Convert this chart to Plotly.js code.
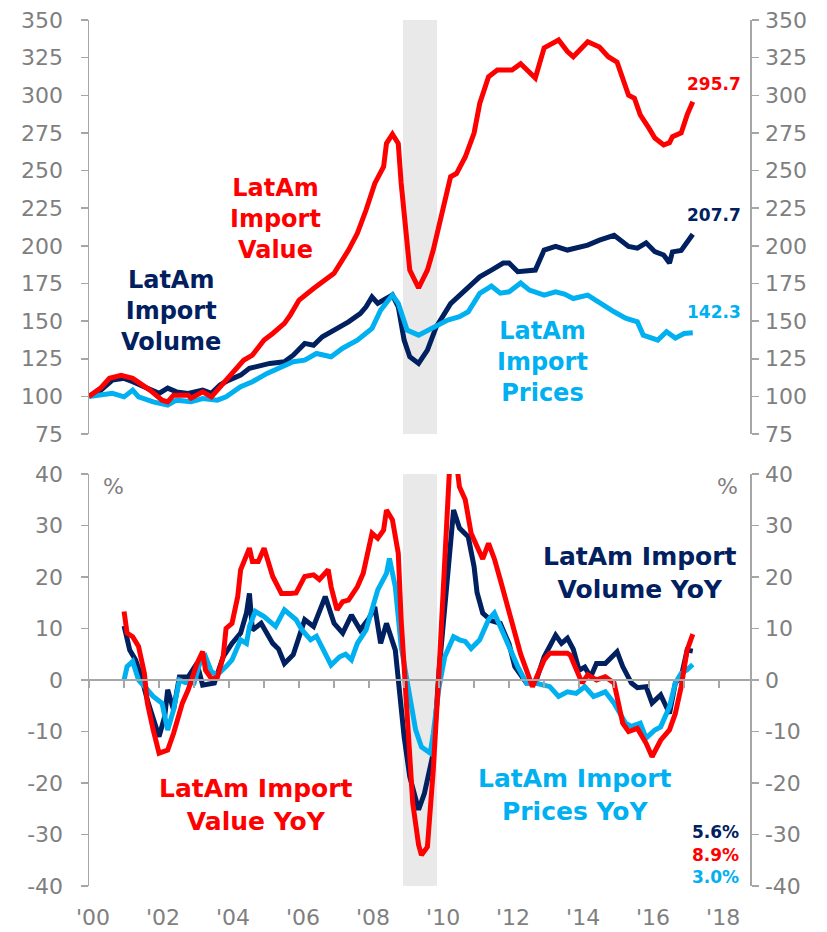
<!DOCTYPE html>
<html><head><meta charset="utf-8">
<script src="https://cdn.plot.ly/plotly-3.0.1.min.js"></script>
<style>html,body{margin:0;padding:0;background:#fff}#chart{width:827px;height:932px}</style>
</head><body><div id="chart"></div>
<script>
// ---------- Index levels (2000 = 100) ----------
const valueDates = ['2000-01','2000-05','2000-08','2000-12','2001-04','2001-10','2002-02','2002-04','2002-06','2002-11','2002-12','2003-04','2003-07','2003-11','2004-03','2004-06','2004-09','2005-01','2005-04','2005-08','2005-10','2006-01','2006-06','2006-11','2007-01','2007-06','2007-09','2007-12','2008-03','2008-06','2008-07','2008-09','2008-11','2008-12','2009-02','2009-03','2009-06','2009-09','2009-11','2010-02','2010-05','2010-07','2010-10','2011-01','2011-03','2011-06','2011-09','2012-02','2012-05','2012-10','2013-01','2013-06','2013-09','2013-11','2014-04','2014-08','2014-11','2015-02','2015-06','2015-08','2015-10','2016-01','2016-03','2016-06','2016-08','2016-09','2016-12','2017-02','2017-04'];
const valueIdx = [100,105.5,112,114,112,104,97.5,96.4,100.8,100.8,98.8,103,99.7,108.5,116.3,124,127.4,137.4,141.8,148.5,154,164,171.7,179.4,181.7,197.2,208.3,223.8,241.5,252.5,268,274.2,268,241.7,206,183.9,172,183.9,197.2,223.8,245.9,248,259,274.9,294.6,312.3,316.8,316.8,321,311.5,331.5,336.7,329,325.6,335.6,332,325.6,322,300,298,287,278,271.6,267,268.5,272.5,275,287,295.7];

const volumeDates = ['2000-01','2000-05','2000-09','2001-01','2001-04','2001-09','2002-01','2002-04','2002-07','2002-11','2003-04','2003-07','2003-10','2004-01','2004-05','2004-08','2004-12','2005-03','2005-08','2005-11','2006-03','2006-06','2006-09','2007-01','2007-06','2007-10','2007-12','2008-02','2008-04','2008-06','2008-09','2008-11','2009-01','2009-03','2009-06','2009-09','2009-12','2010-05','2010-11','2011-03','2011-07','2011-11','2012-01','2012-04','2012-10','2013-01','2013-05','2013-09','2014-04','2014-08','2015-01','2015-06','2015-09','2015-12','2016-03','2016-06','2016-08','2016-09','2016-12','2017-02','2017-04'];
const volumeIdx = [100,104,110.8,112,109.7,105.3,102,105.5,103,102,104.2,102,107.7,110.8,114.1,118.6,120.8,121.9,123,127.4,135.2,134,139.6,144,149.5,155,159.5,166,161.8,164,167.3,159.5,137.4,126.3,121.9,130.7,146,161.6,172.8,179.4,183.9,188.6,188.6,182.8,183.9,197.2,199.6,197.2,200.5,203.8,207,199.6,198.5,202,196.1,193.9,188.6,196,197,202.7,207.7];

const pricesDates = ['2000-01','2000-06','2000-09','2001-01','2001-04','2001-06','2001-11','2002-04','2002-07','2002-12','2003-04','2003-09','2003-12','2004-05','2004-09','2005-02','2005-07','2005-11','2006-03','2006-07','2006-12','2007-04','2007-09','2008-02','2008-05','2008-09','2008-11','2009-02','2009-06','2009-11','2010-04','2010-08','2010-11','2011-03','2011-07','2011-10','2012-01','2012-05','2012-08','2013-01','2013-05','2013-08','2013-11','2014-04','2014-08','2015-01','2015-05','2015-09','2015-11','2016-04','2016-07','2016-10','2017-01','2017-04'];
const pricesIdx = [100,100.8,102,99.7,104.2,99.7,96.4,94.2,97.5,96.4,98.6,97.5,99.7,106.4,109.7,115.3,119.7,123,124.1,128.5,126.3,132,137.4,145.2,157.3,167.3,161.8,144,140.7,146,150.7,152.9,156.2,168.4,173.3,168.6,169.5,175.3,170.6,167.3,169.5,168,165,167.3,162,156.2,152,149.5,140.7,137.4,142.9,138.7,141.8,142.3];

// ---------- Year-on-year, % ----------
const valueYoYDates = ['2001-01','2001-02','2001-04','2001-06','2001-08','2001-09','2001-11','2001-12','2002-01','2002-04','2002-06','2002-09','2002-11','2003-02','2003-04','2003-05','2003-07','2003-09','2003-11','2003-12','2004-02','2004-04','2004-05','2004-08','2004-09','2004-11','2005-01','2005-04','2005-07','2005-10','2005-12','2006-03','2006-06','2006-08','2006-11','2006-12','2007-02','2007-04','2007-06','2007-09','2007-11','2008-02','2008-04','2008-06','2008-07','2008-09','2008-11','2008-12','2009-02','2009-04','2009-06','2009-07','2009-09','2009-11','2010-01','2010-03','2010-04','2010-05','2010-06','2010-07','2010-08','2010-10','2010-12','2011-02','2011-04','2011-06','2011-08','2011-10','2011-12','2012-02','2012-05','2012-09','2013-01','2013-03','2013-09','2013-10','2014-02','2014-04','2014-07','2014-10','2015-01','2015-04','2015-06','2015-09','2015-12','2016-02','2016-05','2016-08','2016-10','2016-12','2017-02','2017-04'];
const valueYoY = [13.3,9.1,8.4,6.5,1.3,-4.5,-9.7,-11.7,-14.2,-13.6,-10.4,-4.5,-1.9,3.2,5.5,1.9,0.3,0.5,4.5,10,11,16.2,21.4,25.6,23,23,25.6,20.1,16.8,16.8,16.9,20.1,20.4,19.5,21.4,18.1,13.6,15.2,15.5,18.1,20.7,28.5,27.5,29.1,33,31.1,24.6,11.7,-7.8,-23.9,-32,-34,-32.4,-17.5,1.9,24.6,38,45,47,42,37.5,35,28.5,25.9,23.5,26.5,23.5,19.5,15.5,11,5,-1.3,3.9,5.2,5.2,4.8,-0.6,1,0,0.6,-0.6,-8.4,-10,-9.4,-12.3,-14.9,-11.7,-9.7,-6.5,-1.3,5.8,8.9];

const volumeYoYDates = ['2001-01','2001-03','2001-05','2001-07','2001-09','2001-11','2002-01','2002-03','2002-04','2002-06','2002-08','2002-11','2003-02','2003-04','2003-08','2003-11','2004-02','2004-05','2004-07','2004-08','2004-09','2004-12','2005-04','2005-06','2005-08','2005-11','2006-03','2006-06','2006-10','2007-01','2007-04','2007-07','2007-10','2008-01','2008-03','2008-05','2008-07','2008-10','2008-11','2009-01','2009-03','2009-06','2009-08','2009-11','2010-01','2010-04','2010-06','2010-08','2010-11','2011-01','2011-02','2011-04','2011-07','2011-10','2012-01','2012-03','2012-05','2012-07','2012-10','2013-01','2013-05','2013-07','2013-09','2013-11','2014-01','2014-03','2014-05','2014-07','2014-10','2015-02','2015-04','2015-07','2015-09','2015-12','2016-02','2016-05','2016-08','2016-10','2016-12','2017-02','2017-04'];
const volumeYoY = [10.5,5.8,3.9,0.6,-3.9,-7.1,-11,-7.1,-1.9,-5.8,0.6,0.6,3.2,-1,-0.6,4.5,7.1,9.1,13,16.8,9.7,11,7.1,6,3.2,4.9,11.7,10.4,16.2,11,9.1,12.6,9.7,12,14.2,7.1,11,5.8,-0.6,-11,-18.8,-25.2,-22,-14.2,1.9,21.4,33,29.5,27.8,22,17,13,11.5,11,7,2.6,1,-0.6,-0.6,4.5,8.7,7.1,8.1,6,1.9,2.5,0.6,3.2,3.2,5.5,2.6,-0.6,-1.5,-1.3,-4.5,-2.9,-6.5,-0.6,0.6,5.8,5.6];

const pricesYoYDates = ['2001-01','2001-02','2001-04','2001-06','2001-09','2001-11','2002-02','2002-04','2002-06','2002-08','2002-10','2003-01','2003-03','2003-05','2003-07','2003-09','2003-12','2004-02','2004-05','2004-07','2004-08','2004-10','2005-01','2005-05','2005-08','2005-12','2006-02','2006-05','2006-07','2006-10','2006-12','2007-03','2007-05','2007-07','2007-09','2007-12','2008-02','2008-04','2008-07','2008-08','2008-10','2008-12','2009-03','2009-05','2009-07','2009-10','2009-11','2010-01','2010-03','2010-06','2010-08','2010-10','2010-12','2011-03','2011-06','2011-08','2011-10','2012-01','2012-04','2012-07','2012-10','2013-03','2013-06','2013-09','2013-12','2014-03','2014-06','2014-10','2015-01','2015-05','2015-07','2015-10','2015-12','2016-03','2016-05','2016-08','2016-10','2016-12','2017-02','2017-04'];
const pricesYoY = [0,2.6,3.6,0,-1.9,-3.2,-4.5,-9.7,-5.8,0,-0.5,-0.6,3.2,4.5,1.6,1,2.6,3.9,7.8,7.1,10.4,13.3,12.3,10.4,13.6,11.7,9.7,7.8,8.5,5.2,2.9,4.5,5,3.9,7.1,9.7,13.6,17.5,20.7,23.6,18.1,6.5,-3.2,-9.7,-13,-14.2,-10.4,-1.3,4.5,8.4,7.8,7.5,6.1,7.8,11.7,13,10.4,6.2,2.6,-0.6,-0.6,-1.3,-3.2,-2.3,-2.6,-1.3,-3.2,-2.3,-4.5,-8.4,-9,-8.4,-11.3,-9.7,-9.1,-5.2,-0.6,1.3,2,3];

// ---------- Axis labels & shading ----------
const tickYears = ['2000-01-01','2001-01-01','2002-01-01','2003-01-01','2004-01-01','2005-01-01','2006-01-01','2007-01-01','2008-01-01','2009-01-01','2010-01-01','2011-01-01','2012-01-01','2013-01-01','2014-01-01','2015-01-01','2016-01-01','2017-01-01','2018-01-01'];
const tickLabels = ["'00","","'02","","'04","","'06","","'08","","'10","","'12","","'14","","'16","","'18"];
const yoyTicks = [-40,-30,-20,-10,0,10,20,30,40];
const yoyTickLabels = ['-40','-30','-20','-10','0','10','20','30','40'];
const recessionBand = ['2008-12-20','2009-12-10'];
const lastLevels = ['295.7','207.7','142.3'];
const lastYoY = ['5.6%','8.9%','3.0%'];

const RED = '#ff0000', NAVY = '#002060', LBLUE = '#00b0f0', GRAY = '#7f7f7f', AXC = '#a6a6a6';
const xRange = ['2000-01-01', '2018-11-19'];
const LW = 5;
const tickFont = {family: 'DejaVu Sans', size: 22, color: GRAY};
const lblFont = (c, s) => ({family: 'DejaVu Sans', size: s, color: c});

const traces = [
  {x: volumeDates, y: volumeIdx, xaxis: 'x', yaxis: 'y', mode: 'lines', line: {color: NAVY, width: LW}},
  {x: pricesDates, y: pricesIdx, xaxis: 'x', yaxis: 'y', mode: 'lines', line: {color: LBLUE, width: LW}},
  {x: valueDates, y: valueIdx, xaxis: 'x', yaxis: 'y3', mode: 'lines', line: {color: RED, width: LW}},
  {x: volumeYoYDates, y: volumeYoY, xaxis: 'x2', yaxis: 'y2', mode: 'lines', line: {color: NAVY, width: LW}},
  {x: pricesYoYDates, y: pricesYoY, xaxis: 'x2', yaxis: 'y2', mode: 'lines', line: {color: LBLUE, width: LW}},
  {x: valueYoYDates, y: valueYoY, xaxis: 'x2', yaxis: 'y4', mode: 'lines', line: {color: RED, width: LW}}
];

const yCommon = {showgrid: false, zeroline: false, showline: true, linecolor: AXC, linewidth: 1.5,
  ticks: 'outside', ticklen: 7, tickwidth: 1.5, tickcolor: AXC, tickfont: tickFont, fixedrange: true};

const topDom = [0.5219, 1], botDom = [0, 0.4758];

const layout = {
  width: 827, height: 932,
  margin: {l: 89, r: 77, t: 20, b: 46, pad: 0},
  paper_bgcolor: '#ffffff', plot_bgcolor: 'rgba(0,0,0,0)',
  showlegend: false,
  xaxis: {type: 'date', domain: [0, 1], anchor: 'y', range: xRange, showticklabels: false,
          showgrid: false, zeroline: false, showline: false, ticks: ''},
  xaxis2: {type: 'date', domain: [0, 1], anchor: 'free', position: (886 - 680) / 866, range: xRange,
           tickmode: 'array', tickvals: tickYears, ticktext: tickLabels,
           showgrid: false, zeroline: false, showline: true, linecolor: AXC, linewidth: 2,
           ticks: 'outside', ticklen: 7, tickwidth: 1.5, tickcolor: AXC,
           tickfont: tickFont, ticklabelstandoff: 211, ticklabelshift: 4, tickangle: 0},
  yaxis: Object.assign({}, yCommon, {domain: topDom, anchor: 'x', range: [75, 350], tick0: 75, dtick: 25, ticklabelstandoff: 13}),
  yaxis3: Object.assign({}, yCommon, {overlaying: 'y', side: 'right', anchor: 'x', range: [75, 350], tick0: 75, dtick: 25, ticklabelstandoff: 2}),
  yaxis2: Object.assign({}, yCommon, {domain: botDom, anchor: 'x2', range: [-40, 40], tickmode: 'array', tickvals: yoyTicks, ticktext: yoyTickLabels, ticklabelstandoff: 13}),
  yaxis4: Object.assign({}, yCommon, {overlaying: 'y2', side: 'right', anchor: 'x2', range: [-40, 40], tickmode: 'array', tickvals: yoyTicks, ticktext: yoyTickLabels, ticklabelstandoff: 2}),
  shapes: [
    {type: 'rect', xref: 'x', yref: 'y domain', x0: recessionBand[0], x1: recessionBand[1], y0: 0, y1: 1,
     fillcolor: '#e9e9e9', line: {width: 0}, layer: 'below'},
    {type: 'rect', xref: 'x2', yref: 'y2 domain', x0: recessionBand[0], x1: recessionBand[1], y0: 0, y1: 1,
     fillcolor: '#e9e9e9', line: {width: 0}, layer: 'below'}
  ],
  annotations: [
    {xref: 'x', yref: 'y', x: '2005-05-01', y: 218, text: '<b>LatAm<br>Import<br>Value</b>', showarrow: false, font: lblFont(RED, 24), align: 'center'},
    {xref: 'x', yref: 'y', x: '2002-05-01', y: 156.6, text: '<b>LatAm<br>Import<br>Volume</b>', showarrow: false, font: lblFont(NAVY, 24), align: 'center'},
    {xref: 'x', yref: 'y', x: '2012-12-20', y: 122.8, text: '<b>LatAm<br>Import<br>Prices</b>', showarrow: false, font: lblFont(LBLUE, 24), align: 'center'},
    {xref: 'x', yref: 'y', x: '2017-01-10', y: 307.5, text: '<b>' + lastLevels[0] + '</b>', showarrow: false, xanchor: 'left', font: lblFont(RED, 17)},
    {xref: 'x', yref: 'y', x: '2017-01-10', y: 220.4, text: '<b>' + lastLevels[1] + '</b>', showarrow: false, xanchor: 'left', font: lblFont(NAVY, 17)},
    {xref: 'x', yref: 'y', x: '2017-01-10', y: 156, text: '<b>' + lastLevels[2] + '</b>', showarrow: false, xanchor: 'left', font: lblFont(LBLUE, 17)},
    {xref: 'x2', yref: 'y2', x: '2015-10-01', y: 20.8, text: '<b>LatAm Import<br>Volume YoY</b>', showarrow: false, font: lblFont(NAVY, 25), align: 'center'},
    {xref: 'x2', yref: 'y2', x: '2004-10-10', y: -24.3, text: '<b>LatAm Import<br>Value YoY</b>', showarrow: false, font: lblFont(RED, 25), align: 'center'},
    {xref: 'x2', yref: 'y2', x: '2013-11-20', y: -22.3, text: '<b>LatAm Import<br>Prices YoY</b>', showarrow: false, font: lblFont(LBLUE, 25), align: 'center'},
    {xref: 'x2', yref: 'y2', x: '2018-08-20', y: -29.5, text: '<b>' + lastYoY[0] + '</b>', showarrow: false, xanchor: 'right', font: lblFont(NAVY, 17)},
    {xref: 'x2', yref: 'y2', x: '2018-08-20', y: -34, text: '<b>' + lastYoY[1] + '</b>', showarrow: false, xanchor: 'right', font: lblFont(RED, 17)},
    {xref: 'x2', yref: 'y2', x: '2018-08-20', y: -38.3, text: '<b>' + lastYoY[2] + '</b>', showarrow: false, xanchor: 'right', font: lblFont(LBLUE, 17)},
    {xref: 'x2', yref: 'y2', x: '2000-09-10', y: 37.5, text: '%', showarrow: false, font: lblFont(GRAY, 22)},
    {xref: 'x2', yref: 'y2', x: '2018-03-25', y: 37.5, text: '%', showarrow: false, font: lblFont(GRAY, 22)}
  ]
};

Plotly.newPlot('chart', traces, layout, {displayModeBar: false, staticPlot: true});
</script>
</body></html>
